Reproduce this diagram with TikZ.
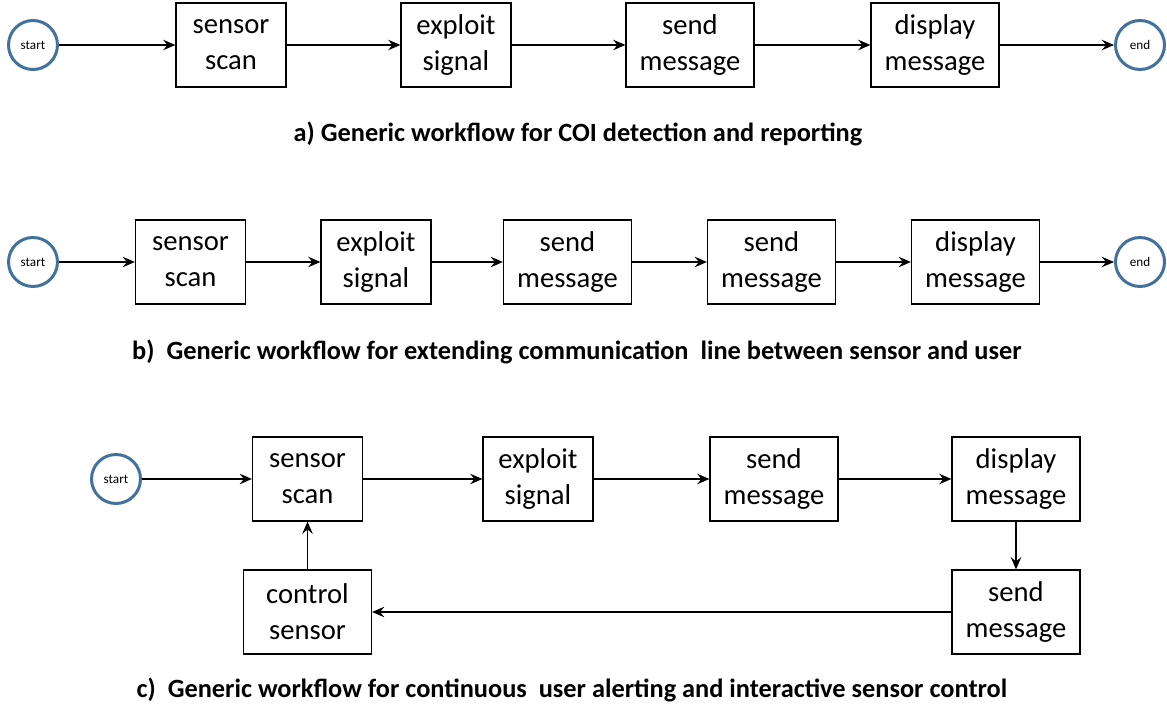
\documentclass[tikz,border=0pt]{standalone}
\usepackage{fontspec}
\setmainfont{Carlito}
\usetikzlibrary{arrows.meta}
\definecolor{ringblue}{RGB}{65,113,156}

\begin{document}
\begin{tikzpicture}[x=0.02cm, y=-0.02cm,
    stepbox/.style={draw, line width=0.7pt, minimum width=2.2cm, minimum height=1.68cm, align=center, inner sep=0pt, font=\fontsize{16.3}{20.5}\selectfont},
    widebox/.style={stepbox, minimum width=2.56cm},
    ring/.style={draw=ringblue, line width=1.7pt, circle, minimum size=0.98cm, inner sep=0pt, font=\fontsize{7.5}{9}\selectfont},
    flow/.style={-{Stealth[length=7pt, width=6pt, inset=2.5pt]}, line width=0.6pt},
    caption/.style={font=\bfseries\fontsize{15}{18}\selectfont}]
    \useasboundingbox (0,0) rectangle (1167,709);

    % a) detection and reporting
    \node[ring] (astart) at (33,45) {start};
    \node[stepbox] (a1) at (231,45) {sensor\\scan};
    \node[stepbox] (a2) at (456,45) {exploit\\signal};
    \node[widebox] (a3) at (690,45) {send\\message};
    \node[widebox] (a4) at (935,45) {display\\message};
    \node[ring] (aend) at (1140,45) {end};
    \foreach \n [remember=\n as \last (initially astart)] in {a1,a2,a3,a4,aend}
        \draw[flow] (\last) -- (\n);
    \node[caption] (acap) at (578,134) {a) Generic workflow for COI detection and reporting};

    % b) extending communication line
    \node[ring] (bstart) at (33,262) {start};
    \node[stepbox] (b1) at (190.5,262) {sensor\\scan};
    \node[stepbox] (b2) at (376,262) {exploit\\signal};
    \node[widebox] (b3) at (567.5,262) {send\\message};
    \node[widebox] (b4) at (771.5,262) {send\\message};
    \node[widebox] (b5) at (975.5,262) {display\\message};
    \node[ring] (bend) at (1140,262) {end};
    \foreach \n [remember=\n as \last (initially bstart)] in {b1,b2,b3,b4,b5,bend}
        \draw[flow] (\last) -- (\n);
    \node[caption] (bcap) at (577,352) {b)~ Generic workflow for extending communication~ line between sensor and user};

    % c) alerting and sensor control
    \node[ring] (cstart) at (116,479) {start};
    \node[stepbox] (c1) at (307.5,479) {sensor\\scan};
    \node[stepbox] (c2) at (538,479) {exploit\\signal};
    \node[widebox] (c3) at (774,479) {send\\message};
    \node[widebox] (c4) at (1016,479) {display\\message};
    \node[widebox] (c5) at (1016,612) {send\\message};
    \node[widebox] (c6) at (307.5,612) {control\\sensor};
    \foreach \n [remember=\n as \last (initially cstart)] in {c1,c2,c3,c4,c5}
        \draw[flow] (\last) -- (\n);
    \draw[flow] (c5) -- (c6);
    \draw[flow] (c6) -- (c1);
    \node[caption] (ccap) at (572,690) {c)~ Generic workflow for continuous~ user alerting and interactive sensor control};
\end{tikzpicture}
\end{document}
